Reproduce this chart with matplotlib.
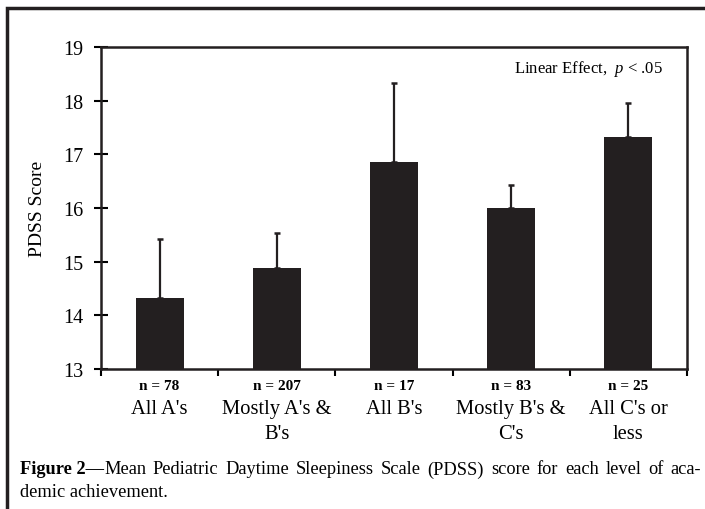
import numpy as np
import matplotlib.pyplot as plt
from matplotlib.patches import Rectangle

plt.rcParams['font.family'] = ['Liberation Serif', 'DejaVu Serif']
plt.rcParams['mathtext.fontset'] = 'custom'
plt.rcParams['mathtext.it'] = 'Liberation Serif:italic'
plt.rcParams['mathtext.rm'] = 'Liberation Serif'

categories = ["All A's", "Mostly A's &\nB's", "All B's", "Mostly B's &\nC's", "All C's or\nless"]
n_labels = ["n = 78", "n = 207", "n = 17", "n = 83", "n = 25"]
means = [14.33, 14.89, 16.85, 16.00, 17.33]
err_up = [1.09, 0.64, 1.47, 0.43, 0.63]
yticks = [13, 14, 15, 16, 17, 18, 19]
cap_bold = "Figure 2\u2014"
cap_line1 = "Mean Pediatric Daytime Sleepiness Scale (PDSS) score for each level of aca-"
cap_line2 = "demic achievement."

barcol = '#231f20'
W, H = 705, 510

fig = plt.figure(figsize=(7.05, 5.10), dpi=100)
ax = fig.add_axes([101 / W, 1 - 370 / H, 586 / W, 322 / H])

x = np.arange(len(categories)) + 0.5
ax.bar(x, np.array(means) - 13, bottom=13, width=0.41, color=barcol, zorder=2)
ax.errorbar(x, means, yerr=[np.zeros(len(means)), err_up], fmt='none',
            ecolor=barcol, elinewidth=1.6, capsize=2.4, capthick=1.8, zorder=3)

ax.set_xlim(0, 5)
ax.set_ylim(13, 19)
ax.set_yticks(yticks)
ax.set_xticks(np.arange(0, 6))
ax.set_xticklabels([])
ax.tick_params(axis='y', direction='inout', length=9.5, width=1.5, labelsize=14.5, pad=8)
ax.tick_params(axis='x', direction='out', length=5, width=1.5)
for s in ax.spines.values():
    s.set_linewidth(1.8)
    s.set_color(barcol)
ax.set_ylabel('PDSS Score', fontsize=14, labelpad=12)

tr = ax.get_xaxis_transform()
for xi, n, c in zip(x, n_labels, categories):
    ax.text(xi, -17 / 322, n, transform=tr, ha='center', va='center',
            fontsize=11, fontweight='bold')
    ax.text(xi, -30 / 322, c, transform=tr, ha='center', va='top',
            fontsize=14.8, linespacing=1.45, multialignment='center')

ax.text(0.959, 0.935, r'Linear Effect,  $p$ < .05', transform=ax.transAxes,
        ha='right', va='center', fontsize=12)

# caption, first line justified between x0 and x1
fig.canvas.draw()
r = fig.canvas.get_renderer()
x0, x1 = 20, 701
y1, y2 = 1 - 470 / H, 1 - 493 / H
tb = fig.text(x0 / W, y1, cap_bold, fontsize=13.2, fontweight='bold',
              ha='left', va='center')
wb = tb.get_window_extent(renderer=r).width
words = cap_line1.split()
texts = [fig.text(0, y1, w, fontsize=13.2, ha='left', va='center') for w in words]
widths = [t.get_window_extent(renderer=r).width for t in texts]
gap = (x1 - x0 - wb - sum(widths)) / (len(words) - 1)
pos = x0 + wb
for t, w in zip(texts, widths):
    t.set_x(pos / W)
    pos += w + gap
fig.text(x0 / W, y2, cap_line2, fontsize=13.2, ha='left', va='center')

# outer frame
fig.patches.append(Rectangle((7 / W, -0.1), 1.2, 1 - 9 / H + 0.1,
                             transform=fig.transFigure, fill=False,
                             edgecolor=barcol, linewidth=2.5))

fig.savefig('out.png', dpi=100)
